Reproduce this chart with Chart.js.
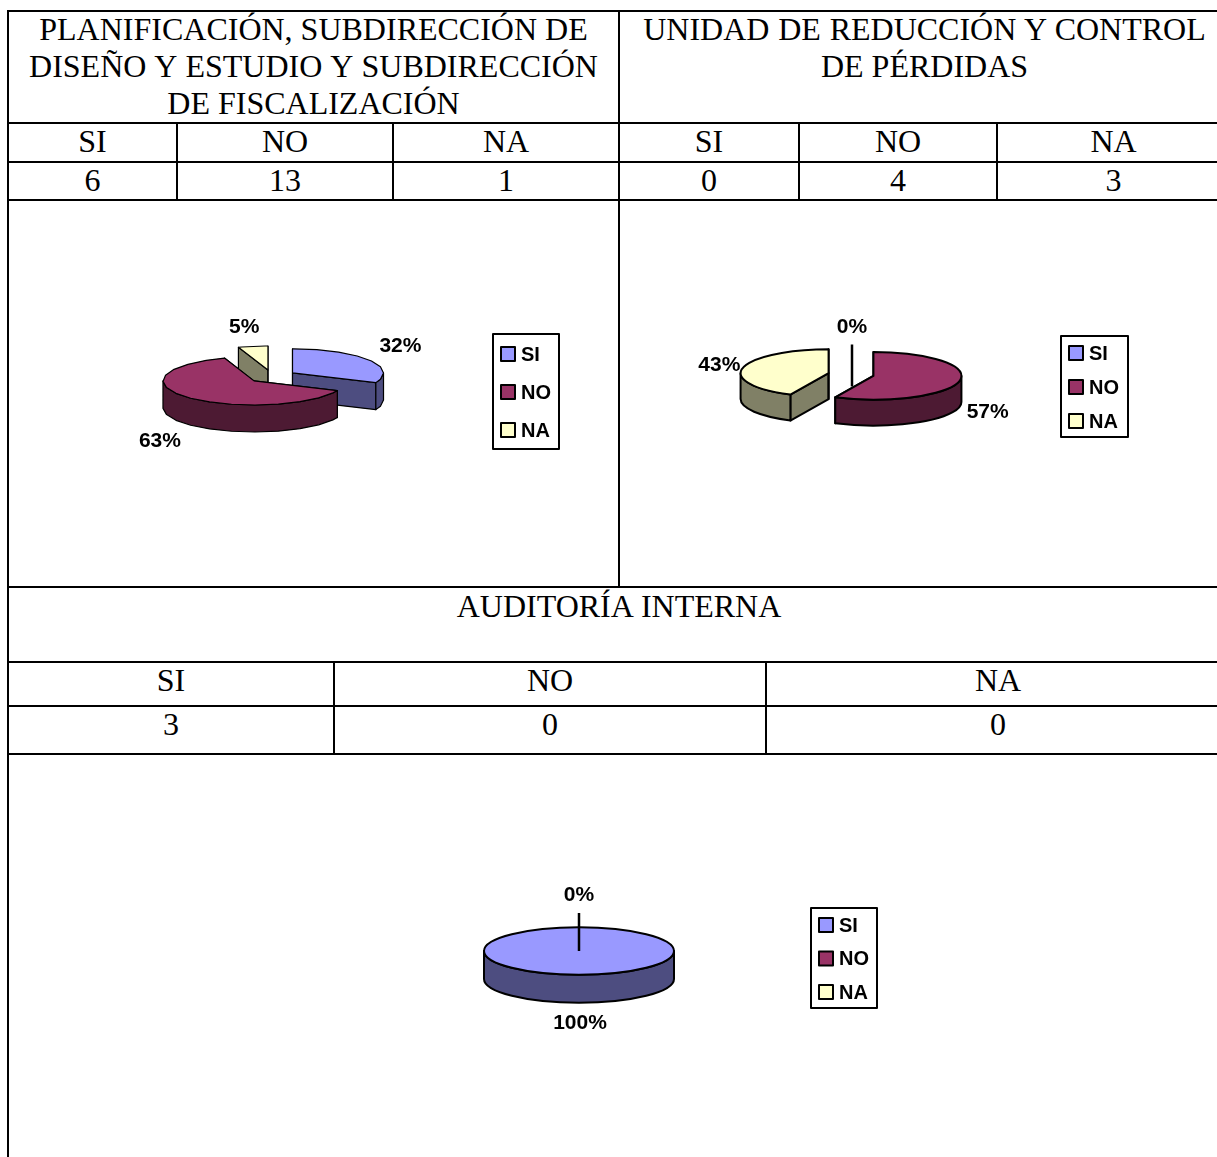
<!DOCTYPE html>
<html>
<head>
<meta charset="utf-8">
<title>Resumen por unidad</title>
<script src="https://cdn.jsdelivr.net/npm/chart.js@4"></script>
<style>
  html, body { margin: 0; padding: 0; background: #fff; overflow: hidden; }
  #page { position: relative; width: 1217px; height: 1157px; overflow: hidden; }
  .line { position: absolute; background: #000; }
  .txt { position: absolute; text-align: center; font: 32px/37px "Liberation Serif", "Times New Roman", serif; color: #000; white-space: nowrap; }
  canvas { position: absolute; }
</style>
</head>
<body>
<div id="page"></div>
<script>
// Datos de la tabla
var categorias = ["SI", "NO", "NA"];
var tituloPlan = ["PLANIFICACIÓN, SUBDIRECCIÓN DE", "DISEÑO Y ESTUDIO Y SUBDIRECCIÓN", "DE FISCALIZACIÓN"];
var tituloUnidad = ["UNIDAD DE REDUCCIÓN Y CONTROL", "DE PÉRDIDAS"];
var tituloAuditoria = ["AUDITORÍA INTERNA"];
var tablaPlan = [6, 13, 1];
var tablaUnidad = [0, 4, 3];
var tablaAuditoria = [3, 0, 0];

// Valores que dibujan las tortas (la primera muestra 32/63/5 en el original)
var tortaPlan = [6, 12, 1];
var tortaUnidad = [0, 4, 3];
var tortaAuditoria = [3, 0, 0];

var colorCara = ["#9999ff", "#993366", "#ffffcc"];
var colorLado = ["#4d4d80", "#4d1a33", "#808066"];

var page = document.getElementById("page");

function linea(x, y, w, h) {
  var d = document.createElement("div");
  d.className = "line";
  d.style.cssText = "left:" + x + "px;top:" + y + "px;width:" + w + "px;height:" + h + "px";
  page.appendChild(d);
}
function texto(str, x0, x1, yc, ws) {
  var d = document.createElement("div");
  d.className = "txt";
  d.textContent = str;
  d.style.cssText = "left:" + x0 + "px;width:" + (x1 - x0) + "px;top:" + (yc - 19.5) + "px;word-spacing:" + (ws || 0) + "px";
  page.appendChild(d);
}

// rejilla
linea(7, 10, 1210, 2);
linea(7, 10, 2, 1147);
[122, 161, 199, 586, 661, 705, 753].forEach(function (y) { linea(7, y, 1210, 2); });
linea(618, 10, 2, 576);
[176, 392, 798, 996].forEach(function (x) { linea(x, 122, 2, 78); });
[333, 765].forEach(function (x) { linea(x, 661, 2, 93); });

// textos
tituloPlan.forEach(function (t, i) { texto(t, 9, 618, 30 + i * 37, i === 1 ? 1.2 : 0); });
tituloUnidad.forEach(function (t, i) { texto(t, 620, 1229, 30 + i * 37, i === 0 ? 0.8 : 0); });
texto(tituloAuditoria[0], 9, 1229, 607, 0.8);

var col1 = [[9, 176], [178, 392], [394, 618]];
var col2 = [[620, 798], [800, 996], [998, 1229]];
var col3 = [[9, 333], [335, 765], [767, 1229]];
categorias.forEach(function (c, i) {
  texto(c, col1[i][0], col1[i][1], 142);
  texto(tablaPlan[i], col1[i][0], col1[i][1], 181);
  texto(c, col2[i][0], col2[i][1], 142);
  texto(tablaUnidad[i], col2[i][0], col2[i][1], 181);
  texto(c, col3[i][0], col3[i][1], 681);
  texto(tablaAuditoria[i], col3[i][0], col3[i][1], 725);
});

// arco eliptico; con paso > 0 queda en tramos rectos como el primer grafico del original
function arco(ctx, x, y, rx, ry, a0, a1, paso) {
  if (!paso) {
    ctx.ellipse(x, y, rx, ry, 0, a0, a1, a1 < a0);
    return;
  }
  var sube = a1 > a0;
  var angs = [a0];
  var k = sube ? Math.floor(a0 / paso) + 1 : Math.ceil(a0 / paso) - 1;
  while (sube ? k * paso < a1 : k * paso > a1) {
    angs.push(k * paso);
    k += sube ? 1 : -1;
  }
  angs.push(a1);
  angs.forEach(function (a) { ctx.lineTo(x + Math.cos(a) * rx, y + Math.sin(a) * ry); });
}

// Plugin que dibuja la torta en falso 3D con los arcos que calcula Chart.js
var torta3d = {
  id: "torta3d",
  beforeDatasetsDraw: function (chart, args, o) {
    var ctx = chart.ctx;
    var arcos = chart.getDatasetMeta(0).data;
    var piezas = [];
    arcos.forEach(function (a, i) {
      var s = a.startAngle, e = a.endAngle, mid = (s + e) / 2;
      var rx = a.outerRadius, ry = rx * o.aplastado;
      var x = a.x + Math.cos(mid) * o.separacion;
      var y = a.y + Math.sin(mid) * o.separacion * o.aplastado;
      piezas.push({ i: i, s: s, e: e, mid: mid, rx: rx, ry: ry, x: x, y: y });
    });

    ctx.save();
    ctx.lineWidth = o.grosor;
    ctx.strokeStyle = "#000";
    ctx.lineJoin = "round";

    piezas.filter(function (p) { return p.e - p.s > 0.001; })
      .sort(function (a, b) { return a.y - b.y; })
      .forEach(function (p) {
        var lleno = p.e - p.s > Math.PI * 2 - 0.001;
        ctx.fillStyle = colorLado[p.i];
        if (!lleno) {
          [p.s, p.e].forEach(function (ang) {
            var px = p.x + Math.cos(ang) * p.rx, py = p.y + Math.sin(ang) * p.ry;
            ctx.beginPath();
            ctx.moveTo(p.x, p.y);
            ctx.lineTo(px, py);
            ctx.lineTo(px, py + o.alto);
            ctx.lineTo(p.x, p.y + o.alto);
            ctx.closePath();
            ctx.fill();
            ctx.stroke();
          });
        }
        // pared curva: solo la parte que mira hacia abajo
        for (var k = -1; k <= 1; k++) {
          var a0 = Math.max(p.s, k * 2 * Math.PI), a1 = Math.min(p.e, k * 2 * Math.PI + Math.PI);
          if (a1 <= a0) continue;
          ctx.beginPath();
          arco(ctx, p.x, p.y, p.rx, p.ry, a0, a1, o.paso);
          arco(ctx, p.x, p.y + o.alto, p.rx, p.ry, a1, a0, o.paso);
          ctx.closePath();
          ctx.fill();
          ctx.stroke();
        }
        // cara superior
        ctx.fillStyle = colorCara[p.i];
        ctx.beginPath();
        if (!lleno) ctx.moveTo(p.x, p.y);
        arco(ctx, p.x, p.y, p.rx, p.ry, p.s, p.e, o.paso);
        ctx.closePath();
        ctx.fill();
        ctx.stroke();
      });

    // etiquetas de porcentaje
    var total = chart.data.datasets[0].data.reduce(function (s, v) { return s + v; }, 0);
    ctx.fillStyle = "#000";
    ctx.font = "bold 21px 'Liberation Sans', Arial, sans-serif";
    ctx.textAlign = "center";
    ctx.textBaseline = "middle";
    piezas.forEach(function (p) {
      var v = chart.data.datasets[0].data[p.i];
      // las tajadas en cero salen arriba con su linea guia; solo una lleva rotulo
      if (v === 0 && p.i !== o.ceroConGuia) return;
      var ajuste = o.ajuste[p.i];
      var dx = Math.cos(p.mid) * p.rx * 1.39;
      var dy = Math.sin(p.mid) * p.ry * 2.05 + (Math.sin(p.mid) > 0 ? o.alto : 0);
      if (v === 0) {
        ctx.beginPath();
        ctx.moveTo(arcos[0].x + o.guia[0], arcos[0].y + o.guia[1]);
        ctx.lineTo(arcos[0].x + o.guia[0], arcos[0].y + o.guia[2]);
        ctx.lineWidth = 2.5;
        ctx.stroke();
        ctx.fillText(Math.round(v / total * 100) + "%", arcos[0].x + ajuste[0], arcos[0].y + ajuste[1]);
        return;
      }
      ctx.fillText(Math.round(v / total * 100) + "%", p.x + dx + ajuste[0], p.y + dy + ajuste[1]);
    });

    // leyenda con marco
    var L = o.leyenda;
    ctx.lineWidth = 2;
    ctx.fillStyle = "#fff";
    ctx.fillRect(L.x, L.y, L.w, L.h);
    ctx.strokeRect(L.x, L.y, L.w, L.h);
    ctx.textAlign = "left";
    ctx.font = "bold 20px 'Liberation Sans', Arial, sans-serif";
    chart.data.labels.forEach(function (lab, i) {
      var yy = L.y + L.fila0 + i * L.paso;
      ctx.fillStyle = colorCara[i];
      ctx.fillRect(L.x + 8, yy - 7, 14, 14);
      ctx.lineWidth = 2;
      ctx.strokeRect(L.x + 8, yy - 7, 14, 14);
      ctx.fillStyle = "#000";
      ctx.fillText(lab, L.x + 28, yy + 1);
    });
    ctx.restore();
    return false;
  }
};

function crearTorta(valores, caja, centro, radio, opts) {
  var c = document.createElement("canvas");
  c.width = caja.w;
  c.height = caja.h;
  c.style.cssText = "left:" + caja.x + "px;top:" + caja.y + "px;width:" + caja.w + "px;height:" + caja.h + "px";
  page.appendChild(c);
  // padding para que el area del grafico quede centrada en la torta
  var cx = centro[0] - caja.x, cy = centro[1] - caja.y;
  var pad = {
    left: Math.max(0, 2 * cx - caja.w), right: Math.max(0, caja.w - 2 * cx),
    top: Math.max(0, 2 * cy - caja.h), bottom: Math.max(0, caja.h - 2 * cy)
  };
  opts.leyenda.x -= caja.x;
  opts.leyenda.y -= caja.y;
  return new Chart(c, {
    type: "pie",
    data: {
      labels: categorias,
      datasets: [{ data: valores, backgroundColor: colorCara, radius: radio }]
    },
    options: {
      responsive: false,
      animation: false,
      layout: { padding: pad },
      plugins: { legend: { display: false }, tooltip: { enabled: false }, torta3d: opts }
    },
    plugins: [torta3d]
  });
}

crearTorta(tortaPlan, { x: 9, y: 201, w: 609, h: 385 }, [272, 376.5], 91, {
  aplastado: 0.265, separacion: 24.5, alto: 27, grosor: 1.2, paso: 0.26,
  ajuste: [[2, 0], [-1, 0], [-3, 6]], ceroConGuia: -1, guia: [0, 0, 0],
  leyenda: { x: 493, y: 334, w: 66, h: 115, fila0: 20, paso: 38 }
});
crearTorta(tortaUnidad, { x: 620, y: 201, w: 597, h: 385 }, [851, 374.5], 88, {
  aplastado: 0.27, separacion: 23, alto: 26, grosor: 2, paso: 0,
  ajuste: [[1, -47], [-5, -1], [10, 3]], ceroConGuia: 0, guia: [1, 12, -30],
  leyenda: { x: 1061, y: 336, w: 67, h: 101, fila0: 17, paso: 34 }
});
crearTorta(tortaAuditoria, { x: 9, y: 755, w: 1208, h: 402 }, [579, 951], 95, {
  aplastado: 0.25, separacion: 0, alto: 28, grosor: 2, paso: 0,
  ajuste: [[1, -4], [0, -56], [0, 0]], ceroConGuia: 1, guia: [0, 0, -38],
  leyenda: { x: 811, y: 908, w: 66, h: 100, fila0: 17, paso: 33.5 }
});
</script>
</body>
</html>
